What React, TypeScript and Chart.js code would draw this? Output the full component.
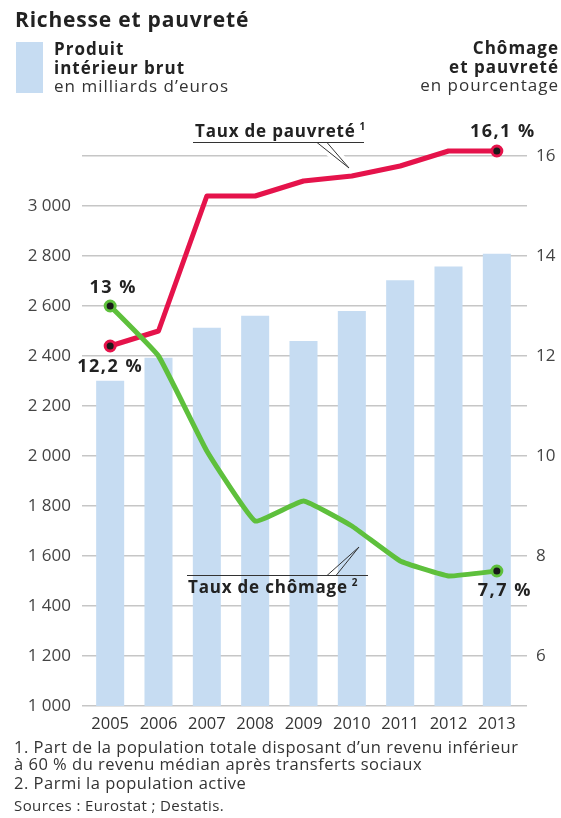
import { useEffect, useRef } from 'react';
import { Chart, registerables } from 'chart.js';

Chart.register(...registerables);

const years = ['2005', '2006', '2007', '2008', '2009', '2010', '2011', '2012', '2013'];
const gdp = [2301, 2393, 2513, 2561, 2460, 2580, 2703, 2758, 2809];
const poverty = [12.2, 12.5, 15.2, 15.2, 15.5, 15.6, 15.8, 16.1, 16.1];
const unemployment = [13.0, 12.0, 10.1, 8.7, 9.1, 8.6, 7.9, 7.6, 7.7];

const leftMin = 1000;
const leftMax = 3200;
const leftStep = 200;
const leftLabelMax = 3000;
const rightMin = 5;
const rightMax = 16;
const rightLabelValues = [6, 8, 10, 12, 14, 16];

const titleText = 'Richesse et pauvreté';
const legendLeft = ['Produit', 'intérieur brut', 'en milliards d’euros'];
const legendRight = ['Chômage', 'et pauvreté', 'en pourcentage'];
const footnotes = [
  '1. Part de la population totale disposant d’un revenu inférieur',
  'à 60 % du revenu médian après transferts sociaux',
  '2. Parmi la population active',
];
const sourceText = 'Sources : Eurostat ; Destatis.';
const povertyName = 'Taux de pauvreté';
const unemploymentName = 'Taux de chômage';

const FONT = '"Open Sans", "DejaVu Sans", sans-serif';
const BLUE = '#c6dcf2';
const RED = '#e5134b';
const GREEN = '#5ec03c';
const GRID = '#c6c6c6';
const TEXT = '#222222';

const fmtThousands = (v: number) => {
  const s = String(Math.round(v));
  return s.length > 3 ? s.slice(0, s.length - 3) + ' ' + s.slice(-3) : s;
};
const fmtPct = (v: number) => String(v).replace('.', ',') + ' %';

const endRadius = (arr: number[]) => arr.map((_, i) => (i === 0 || i === arr.length - 1 ? 5 : 0));

const setSpacing = (ctx: any, px: number) => {
  try {
    ctx.letterSpacing = px + 'px';
  } catch (e) {
    /* ignore */
  }
};

const decorPlugin = {
  id: 'decor',
  beforeDatasetsDraw(chart: any) {
    const ctx = chart.ctx;
    ctx.save();
    ctx.strokeStyle = '#ffffff';
    ctx.lineWidth = 9;
    ctx.lineJoin = 'round';
    ctx.beginPath();
    ctx.moveTo(319, 143);
    ctx.lineTo(349, 168);
    ctx.lineTo(327, 143);
    ctx.stroke();
    ctx.beginPath();
    ctx.moveTo(329, 574);
    ctx.lineTo(358, 548);
    ctx.lineTo(337, 574);
    ctx.stroke();
    ctx.restore();
  },
  afterDatasetsDraw(chart: any) {
    const ctx = chart.ctx;
    ctx.save();
    ctx.strokeStyle = '#333333';
    ctx.lineWidth = 1;
    ctx.beginPath();
    ctx.moveTo(193, 142.5);
    ctx.lineTo(364, 142.5);
    ctx.moveTo(317, 142.5);
    ctx.lineTo(349, 168);
    ctx.lineTo(327, 142.5);
    ctx.stroke();
    ctx.beginPath();
    ctx.moveTo(187, 575.5);
    ctx.lineTo(368, 575.5);
    ctx.moveTo(327, 575.5);
    ctx.lineTo(359, 547);
    ctx.lineTo(336, 575.5);
    ctx.stroke();

    ctx.fillStyle = TEXT;
    ctx.textBaseline = 'alphabetic';
    ctx.textAlign = 'left';
    setSpacing(ctx, 0.8);
    ctx.font = `bold 17px ${FONT}`;
    ctx.fillText(povertyName, 195, 137);
    let w = ctx.measureText(povertyName).width;
    setSpacing(ctx, 0);
    ctx.font = `bold 10px ${FONT}`;
    ctx.fillText('1', 195 + w + 4, 130);
    setSpacing(ctx, 0.8);
    ctx.font = `bold 17px ${FONT}`;
    ctx.fillText(unemploymentName, 188, 593);
    w = ctx.measureText(unemploymentName).width;
    setSpacing(ctx, 0);
    ctx.font = `bold 10px ${FONT}`;
    ctx.fillText('2', 188 + w + 4, 586);

    const redMeta = chart.getDatasetMeta(1).data;
    const greenMeta = chart.getDatasetMeta(0).data;
    const n = years.length;
    setSpacing(ctx, 1.5);
    ctx.font = `bold 18px ${FONT}`;
    ctx.textAlign = 'center';
    ctx.textBaseline = 'middle';
    ctx.fillText(fmtPct(unemployment[0]), greenMeta[0].x + 3, greenMeta[0].y - 18);
    ctx.fillText(fmtPct(poverty[0]), redMeta[0].x, redMeta[0].y + 21);
    ctx.fillText(fmtPct(poverty[n - 1]), redMeta[n - 1].x + 6, redMeta[n - 1].y - 19);
    ctx.fillText(fmtPct(unemployment[n - 1]), greenMeta[n - 1].x + 8, greenMeta[n - 1].y + 20);
    setSpacing(ctx, 0);
    ctx.restore();
  },
  afterDraw(chart: any) {
    const ctx = chart.ctx;
    ctx.save();
    ctx.textBaseline = 'alphabetic';
    ctx.textAlign = 'left';
    ctx.fillStyle = TEXT;
    setSpacing(ctx, 0.8);
    ctx.font = `bold 21px ${FONT}`;
    ctx.fillText(titleText, 15, 27);

    ctx.fillStyle = BLUE;
    ctx.fillRect(16, 42, 27, 51);

    setSpacing(ctx, 1);
    const lb = [55, 74, 92];
    legendLeft.forEach((t, i) => {
      ctx.font = `${i < 2 ? 'bold' : 'normal'} 17px ${FONT}`;
      ctx.fillStyle = i < 2 ? TEXT : '#333333';
      ctx.fillText(t, 54, lb[i]);
    });
    ctx.textAlign = 'right';
    const rb = [54, 73, 91];
    legendRight.forEach((t, i) => {
      ctx.font = `${i < 2 ? 'bold' : 'normal'} 17px ${FONT}`;
      ctx.fillStyle = i < 2 ? TEXT : '#333333';
      ctx.fillText(t, 559, rb[i]);
    });

    ctx.textAlign = 'left';
    ctx.fillStyle = '#333333';
    setSpacing(ctx, 0.5);
    ctx.font = `normal 16.5px ${FONT}`;
    const fb = [753, 770, 789];
    footnotes.forEach((t, i) => ctx.fillText(t, 14, fb[i]));
    setSpacing(ctx, 0.4);
    ctx.font = `normal 15px ${FONT}`;
    ctx.fillText(sourceText, 14, 811);
    setSpacing(ctx, 0);
    ctx.restore();
  },
};

export default function App() {
  const ref = useRef<HTMLCanvasElement | null>(null);

  useEffect(() => {
    document.body.style.margin = '0';
    const canvas = ref.current;
    if (!canvas) return;
    const chart = new Chart(canvas, {
      type: 'bar',
      data: {
        labels: years,
        datasets: [
          {
            type: 'line',
            label: unemploymentName,
            data: unemployment,
            yAxisID: 'y1',
            borderColor: GREEN,
            borderWidth: 5,
            pointRadius: endRadius(unemployment),
            pointHoverRadius: endRadius(unemployment),
            pointBackgroundColor: '#1a1a1a',
            pointBorderColor: GREEN,
            pointBorderWidth: 3,
            tension: 0.1,
            borderJoinStyle: 'round',
            borderCapStyle: 'round',
            clip: false,
            order: 1,
          } as any,
          {
            type: 'line',
            label: povertyName,
            data: poverty,
            yAxisID: 'y1',
            borderColor: RED,
            borderWidth: 5,
            pointRadius: endRadius(poverty),
            pointHoverRadius: endRadius(poverty),
            pointBackgroundColor: '#1a1a1a',
            pointBorderColor: RED,
            pointBorderWidth: 3,
            tension: 0,
            borderJoinStyle: 'round',
            borderCapStyle: 'round',
            clip: false,
            order: 2,
          } as any,
          {
            type: 'bar',
            label: 'Produit intérieur brut',
            data: gdp,
            yAxisID: 'y',
            backgroundColor: BLUE,
            borderWidth: 0,
            barPercentage: 0.58,
            categoryPercentage: 1,
            order: 3,
          } as any,
        ],
      },
      options: {
        responsive: false,
        animation: false,
        events: [],
        layout: { padding: { top: 156, left: 0, right: 0, bottom: 0 } },
        plugins: {
          legend: { display: false },
          title: { display: false },
          tooltip: { enabled: false },
        },
        scales: {
          x: {
            offset: true,
            grid: { display: false, drawTicks: false },
            border: { display: false },
            ticks: {
              color: '#333333',
              font: { family: FONT, size: 16.5 },
              padding: 8,
              maxRotation: 0,
              autoSkip: false,
            },
            afterFit: (s: any) => {
              s.height = 112;
            },
          },
          y: {
            position: 'left',
            min: leftMin,
            max: leftMax,
            grid: { color: GRID, lineWidth: 1.5, drawTicks: true, tickLength: 4 },
            border: { display: false },
            ticks: {
              stepSize: leftStep,
              autoSkip: false,
              color: '#444444',
              font: { family: FONT, size: 17 },
              padding: 11,
              callback: (v: any) => (Number(v) <= leftLabelMax ? fmtThousands(Number(v)) : ''),
            },
            afterFit: (s: any) => {
              s.width = 86;
            },
          },
          y1: {
            position: 'right',
            min: rightMin,
            max: rightMax,
            grid: { color: GRID, lineWidth: 1.5, drawOnChartArea: false, drawTicks: true, tickLength: 6 },
            border: { display: false },
            ticks: {
              stepSize: 1,
              autoSkip: false,
              color: '#444444',
              font: { family: FONT, size: 17 },
              padding: 9,
              callback: (v: any) => (rightLabelValues.includes(Number(v)) ? String(v) : ''),
            },
            afterFit: (s: any) => {
              s.width = 40;
            },
          },
        },
      } as any,
      plugins: [decorPlugin],
    });
    return () => chart.destroy();
  }, []);

  return (
    <div style={{ width: 561, height: 818, position: 'relative' }}>
      <canvas ref={ref} width={561} height={818} style={{ display: 'block', width: 561, height: 818 }} />
    </div>
  );
}
